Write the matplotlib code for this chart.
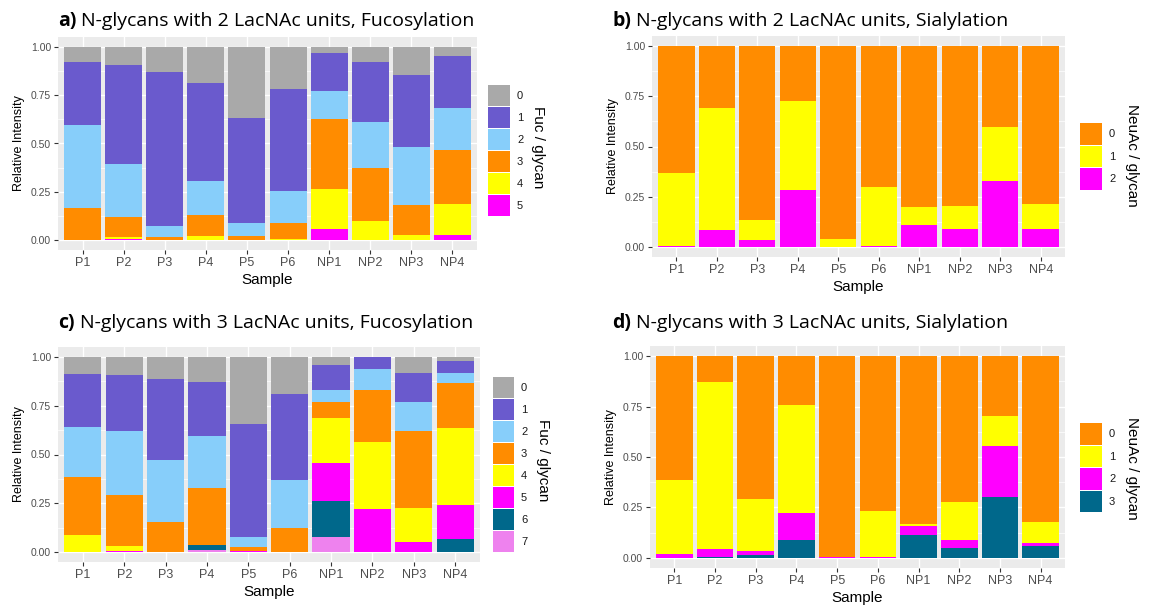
import numpy as np
import matplotlib
matplotlib.use("Agg")
import matplotlib.pyplot as plt
from matplotlib.patches import Rectangle

plt.rcParams["font.family"] = ["Liberation Sans", "DejaVu Sans"]

W, H = 1152, 608

samples = ["P1", "P2", "P3", "P4", "P5", "P6", "NP1", "NP2", "NP3", "NP4"]

# level colours (0..7)
level_colors = ["#A9A9A9", "#6A5ACD", "#87CEFA", "#FF8C00",
                "#FFFF00", "#FF00FF", "#00688B", "#EE82EE"]
sia_colors = ["#FF8C00", "#FFFF00", "#FF00FF", "#00688B"]

# a) 2 LacNAc, fucosylation: fraction per Fuc level, one list per level
fuc2_0 = [0.080, 0.095, 0.130, 0.190, 0.370, 0.220, 0.035, 0.080, 0.145, 0.050]
fuc2_1 = [0.325, 0.510, 0.795, 0.505, 0.540, 0.525, 0.195, 0.310, 0.375, 0.265]
fuc2_2 = [0.430, 0.275, 0.060, 0.175, 0.070, 0.165, 0.145, 0.235, 0.300, 0.220]
fuc2_3 = [0.162, 0.105, 0.012, 0.110, 0.017, 0.082, 0.360, 0.275, 0.155, 0.280]
fuc2_4 = [0.003, 0.010, 0.003, 0.020, 0.003, 0.008, 0.205, 0.100, 0.025, 0.160]
fuc2_5 = [0.000, 0.005, 0.000, 0.000, 0.000, 0.000, 0.060, 0.000, 0.000, 0.025]

# b) 2 LacNAc, sialylation
sia2_0 = [0.630, 0.310, 0.865, 0.275, 0.962, 0.700, 0.800, 0.795, 0.405, 0.785]
sia2_1 = [0.363, 0.605, 0.100, 0.440, 0.036, 0.297, 0.090, 0.117, 0.265, 0.125]
sia2_2 = [0.007, 0.085, 0.035, 0.285, 0.002, 0.003, 0.110, 0.088, 0.330, 0.090]

# c) 3 LacNAc, fucosylation
fuc3_0 = [0.090, 0.095, 0.115, 0.130, 0.345, 0.190, 0.040, 0.000, 0.085, 0.020]
fuc3_1 = [0.270, 0.285, 0.415, 0.275, 0.575, 0.440, 0.130, 0.060, 0.145, 0.065]
fuc3_2 = [0.255, 0.325, 0.315, 0.265, 0.055, 0.245, 0.060, 0.110, 0.150, 0.050]
fuc3_3 = [0.295, 0.262, 0.155, 0.293, 0.020, 0.122, 0.085, 0.265, 0.395, 0.230]
fuc3_4 = [0.090, 0.026, 0.000, 0.000, 0.000, 0.003, 0.230, 0.345, 0.175, 0.395]
fuc3_5 = [0.000, 0.004, 0.000, 0.000, 0.005, 0.000, 0.195, 0.220, 0.050, 0.170]
fuc3_6 = [0.000, 0.000, 0.000, 0.025, 0.000, 0.000, 0.180, 0.000, 0.000, 0.070]
fuc3_7 = [0.000, 0.003, 0.000, 0.012, 0.000, 0.000, 0.080, 0.000, 0.000, 0.000]

# d) 3 LacNAc, sialylation
sia3_0 = [0.615, 0.130, 0.710, 0.240, 0.997, 0.770, 0.830, 0.725, 0.295, 0.820]
sia3_1 = [0.365, 0.825, 0.257, 0.535, 0.000, 0.227, 0.010, 0.187, 0.150, 0.105]
sia3_2 = [0.020, 0.042, 0.018, 0.135, 0.003, 0.003, 0.045, 0.038, 0.255, 0.015]
sia3_3 = [0.000, 0.003, 0.015, 0.090, 0.000, 0.000, 0.115, 0.050, 0.300, 0.060]

fig = plt.figure(figsize=(W / 100, H / 100), dpi=100)


def fx(x):
    return x / W


def fy(y):
    return 1 - y / H


def draw_panel(rect, levels, colors):
    x0, y0, x1, y1 = rect
    ax = fig.add_axes([fx(x0), fy(y1), (x1 - x0) / W, (y1 - y0) / H])
    ax.set_facecolor("#EBEBEB")
    for s in ax.spines.values():
        s.set_visible(False)
    x = np.arange(1, len(samples) + 1)
    bottom = np.zeros(len(samples))
    # highest level at the bottom, level 0 on top
    for i in range(len(levels) - 1, -1, -1):
        vals = np.array(levels[i])
        ax.bar(x, vals, width=0.9, bottom=bottom, color=colors[i], linewidth=0, zorder=3)
        bottom += vals
    ax.set_xlim(0.4, 10.6)
    ax.set_ylim(-0.05, 1.05)
    ax.set_xticks(x)
    ax.set_xticklabels(samples, fontsize=9, color="#4D4D4D")
    ax.set_yticks([0, 0.25, 0.5, 0.75, 1.0])
    ax.set_yticklabels(["0.00", "0.25", "0.50", "0.75", "1.00"], fontsize=7.5, color="#4D4D4D")
    ax.set_yticks([0.125, 0.375, 0.625, 0.875], minor=True)
    ax.tick_params(axis="both", which="major", length=3, width=0.8, color="#333333", pad=2)
    ax.tick_params(axis="y", which="minor", length=0)
    ax.grid(True, which="major", color="white", linewidth=1.0, zorder=0)
    ax.grid(True, which="minor", axis="y", color="white", linewidth=0.5, zorder=0)
    ax.set_axisbelow(True)
    ax.set_ylabel("Relative Intensity", fontsize=9, labelpad=4)
    ax.set_xlabel("Sample", fontsize=11, labelpad=3)
    return ax


def draw_legend(kx, ky, kw, kh, colors, title, tx, tyc):
    for i, c in enumerate(colors):
        top = ky + i * kh
        fig.patches.append(Rectangle((fx(kx), fy(top + kh - 1)), kw / W, (kh - 1) / H,
                                     transform=fig.transFigure, facecolor=c,
                                     edgecolor="none", zorder=5))
        fig.text(fx(kx + kw + 7), fy(top + kh / 2), str(i), fontsize=8,
                 va="center", ha="left", color="#1A1A1A")
    fig.text(fx(tx), fy(tyc), title, fontsize=11, rotation=270,
             va="center", ha="center")


def draw_title(x, y, tag, rest):
    t = fig.text(fx(x), fy(y), tag, fontsize=14, fontweight="bold",
                 family=["Open Sans", "DejaVu Sans"], va="baseline")
    r = fig.canvas.get_renderer()
    bb = t.get_window_extent(renderer=r)
    fig.text(fx(x + bb.width + 5), fy(y), rest, fontsize=14,
             family=["Open Sans", "DejaVu Sans"], va="baseline")


draw_panel((58, 37, 477, 250), [fuc2_0, fuc2_1, fuc2_2, fuc2_3, fuc2_4, fuc2_5], level_colors)
draw_panel((652, 36, 1065, 257), [sia2_0, sia2_1, sia2_2], sia_colors)
draw_panel((58, 347, 480, 562), [fuc3_0, fuc3_1, fuc3_2, fuc3_3, fuc3_4, fuc3_5, fuc3_6, fuc3_7], level_colors)
draw_panel((650, 346, 1065, 568), [sia3_0, sia3_1, sia3_2, sia3_3], sia_colors)

draw_legend(488, 85, 22, 22, level_colors[:6], "Fuc / glycan", 538, 147)
draw_legend(1080, 123, 22, 22.5, sia_colors[:3], "NeuAc / glycan", 1132, 155)
draw_legend(493, 377, 21, 22, level_colors, "Fuc / glycan", 543, 460)
draw_legend(1080, 423, 22, 22.5, sia_colors, "NeuAc / glycan", 1132, 468)

draw_title(58, 26, "a)", "N-glycans with 2 LacNAc units, Fucosylation")
draw_title(612, 26, "b)", "N-glycans with 2 LacNAc units, Sialylation")
draw_title(58, 328, "c)", "N-glycans with 3 LacNAc units, Fucosylation")
draw_title(612, 328, "d)", "N-glycans with 3 LacNAc units, Sialylation")

fig.savefig("out.png", dpi=100)
